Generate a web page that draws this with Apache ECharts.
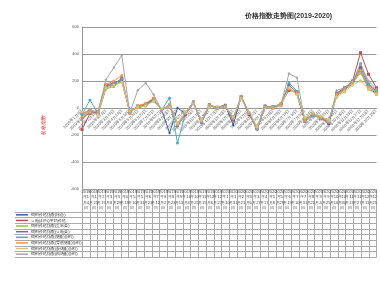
<!DOCTYPE html>
<html><head><meta charset="utf-8">
<script src="https://cdn.jsdelivr.net/npm/echarts@6/dist/echarts.min.js"></script>
<style>html,body{margin:0;padding:0;background:#fff}#c{width:380px;height:290px}</style>
</head><body><div id="c"></div>
<script>
const categories = ["2019年1月4日","2019年1月25日","2019年2月15日","2019年3月8日","2019年3月29日","2019年4月19日","2019年5月10日","2019年5月31日","2019年6月21日","2019年7月12日","2019年8月2日","2019年8月23日","2019年9月13日","2019年10月4日","2019年10月25日","2019年11月15日","2019年12月6日","2019年12月27日","2020年1月10日","2020年1月31日","2020年2月21日","2020年3月6日","2020年3月27日","2020年4月17日","2020年5月8日","2020年5月29日","2020年6月19日","2020年7月10日","2020年7月31日","2020年8月21日","2020年9月4日","2020年9月25日","2020年10月16日","2020年10月30日","2020年11月13日","2020年11月27日","2020年12月11日","2020年12月25日"];
const seriesNames = ["饲料价格指数(综合)","豆粕(43%)平均价格","饲料价格指数(玉米类)","饲料价格指数(豆粕类)","饲料价格指数(猪配合料)","饲料价格指数(育肥猪配合料)","饲料价格指数(蛋鸡配合料)","饲料价格指数(肉鸡配合料)"];
const s1 = [-80,-30,-40,150,170,200,-20,0,20,60,-10,-185,0,-40,45,-110,15,5,20,-125,85,-35,-160,15,0,20,150,100,-95,-55,-60,-120,95,135,180,280,140,110];
const s2 = [-160,-40,-30,165,175,220,-35,15,30,70,-20,20,-120,-50,35,-95,25,0,10,-90,75,-50,-150,5,10,30,130,120,-100,-40,-80,-110,110,150,200,410,250,150];
const s3 = [-60,-10,-50,140,160,200,-25,5,20,55,-15,25,-140,-30,40,-100,20,-5,15,-70,80,-30,-140,10,5,20,150,105,-80,-50,-70,-90,90,130,185,260,150,120];
const s4 = [-40,-20,-40,170,185,210,-30,10,25,65,-10,15,-130,-45,45,-105,15,5,20,-85,85,-45,-155,15,0,25,170,115,-90,-45,-75,-105,100,145,195,300,170,125];
const s5 = [-50,60,-40,155,180,215,-30,10,20,60,-15,75,-260,-40,35,-100,20,0,10,-80,80,-40,-150,10,5,25,185,125,-85,-60,-65,-100,105,140,190,330,180,130];
const s6 = [-70,-15,-30,175,200,240,-40,15,35,75,-20,30,-120,-35,40,-95,25,0,15,-75,75,-40,-145,5,10,30,140,110,-90,-45,-70,-95,100,135,185,280,160,115];
const s7 = [-30,-30,-50,150,170,190,-20,5,15,50,-10,10,-110,-30,35,-90,10,5,10,-70,70,-35,-140,5,0,15,150,100,-70,-40,-60,-90,80,120,170,200,140,100];
const s8 = [-90,-20,-30,210,300,390,-35,130,185,100,-15,20,-130,-45,45,-105,20,0,15,-80,90,-40,-155,10,5,25,255,225,-100,-50,-80,-110,130,150,200,320,200,140];
const yTicks = [-600,-400,-200,0,200,400,600];

const allSeries = [s1,s2,s3,s4,s5,s6,s7,s8];
const colors = ['#3A5F9A','#C0504D','#9BBB59','#8064A2','#4BACC6','#F79646','#D9C27A','#A6A6A6'];
const symbols = ['diamond','rect','triangle','rect','circle','circle','rect','diamond'];

const chart = echarts.init(document.getElementById('c'), null, {renderer:'canvas'});
const rich = {};
colors.forEach((c,i)=>{ rich['m'+i] = {width:12, height:1.5, backgroundColor:c}; });
rich.t = {fontSize:4, color:'#333', padding:[0,0,0,3]};

const tableData = [];
allSeries.forEach((arr,j)=>arr.forEach((v,i)=>tableData.push([i,j,v])));

const lineSeries = allSeries.map((arr,j)=>({
  type:'line', name:seriesNames[j], data:arr, xAxisIndex:0, yAxisIndex:0,
  symbol:symbols[j], symbolSize:3, showSymbol:true,
  lineStyle:{width:1, color:colors[j]}, itemStyle:{color:colors[j]}
}));

chart.setOption({
  animation:false,
  title:{text:'价格指数走势图(2019-2020)', left:240, top:8,
    textStyle:{fontSize:7, fontWeight:'bold', color:'#333'}},
  grid:[
    {left:82, top:27, width:304.5, height:162},
    {left:82, top:212, width:312.7, height:45}
  ],
  xAxis:[
    {type:'category', gridIndex:0, data:categories, boundaryGap:false,
     position:'bottom', offset:-81,
     axisLine:{onZero:false, lineStyle:{color:'#999'}}, axisTick:{show:false},
     axisLabel:{interval:0, rotate:45, fontSize:4, color:'#555', margin:2, hideOverlap:false}},
    {type:'category', gridIndex:1, data:categories, boundaryGap:true, position:'top',
     axisLine:{show:true, lineStyle:{color:'#aaa'}},
     axisTick:{show:true, interval:0, length:23, lineStyle:{color:'#aaa'}},
     splitLine:{show:true, interval:0, lineStyle:{color:'#aaa'}},
     axisLabel:{interval:0, fontSize:4, lineHeight:5.5, color:'#444', margin:1,
       formatter:function(v){const m=v.match(/(\d+)年(\d+)月(\d+)日/); return m[1]+'\n年'+m[2]+'\n月'+m[3]+'\n日';}}}
  ],
  yAxis:[
    {type:'value', gridIndex:0, min:yTicks[0], max:yTicks[yTicks.length-1], interval:200,
     axisLine:{show:true, lineStyle:{color:'#999'}}, axisTick:{show:false},
     splitLine:{lineStyle:{color:'#999'}},
     axisLabel:{fontSize:4, color:'#555', margin:3},
     name:'价格指数', nameLocation:'middle', nameGap:36, nameRotate:90,
     nameTextStyle:{fontSize:4.5, color:'#e02020', padding:[0,34,0,0]}},
    {type:'category', gridIndex:1, data:seriesNames, inverse:true,
     axisLine:{show:true, lineStyle:{color:'#aaa'}},
     axisTick:{show:true, interval:0, length:67, lineStyle:{color:'#aaa'}},
     splitLine:{show:true, interval:0, lineStyle:{color:'#aaa'}},
     axisLabel:{interval:0, align:'left', margin:66, fontSize:4, color:'#333',
       formatter:function(v,i){return '{m'+i+'|}{t|'+v+'}';}, rich:rich}}
  ],
  series: lineSeries.concat([{
    type:'scatter', xAxisIndex:1, yAxisIndex:1, data:tableData,
    symbolSize:1, itemStyle:{opacity:0},
    label:{show:true, position:'inside', fontSize:4, color:'#333',
      formatter:function(p){return p.data[2];}}
  }])
});
</script></body></html>
